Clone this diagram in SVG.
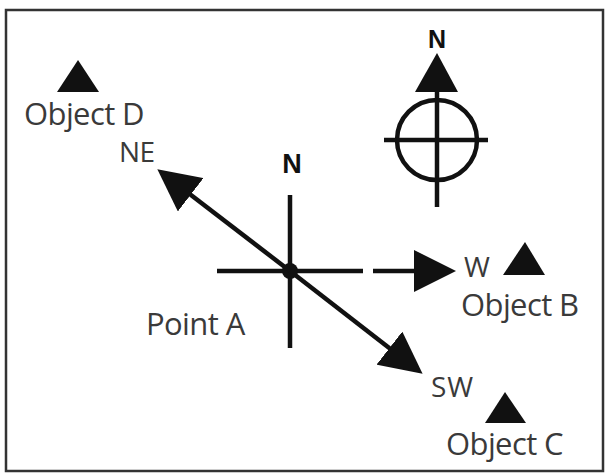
<svg xmlns="http://www.w3.org/2000/svg" width="609" height="476" viewBox="0 0 609 476">
  <style>
    .lbl { font-family: "Open Sans", "Noto Sans", sans-serif; font-size: 31px; fill: #3a3a3a; letter-spacing: -0.6px; }
    .sm { font-size: 28px; }
    .n { font-family: "Liberation Sans", Arial, sans-serif; font-weight: bold; font-size: 27px; fill: #111; text-anchor: middle; }
    .ln { stroke: #111; stroke-width: 4.5; fill: none; }
    .tri { fill: #111; }
  </style>
  <defs>
    <marker id="head" markerUnits="userSpaceOnUse" markerWidth="42" markerHeight="42" refX="20" refY="20" orient="auto-start-reverse" viewBox="0 0 40 40">
      <path d="M0,0 L40,20 L0,40 Z" fill="#111"/>
    </marker>
  </defs>
  <rect x="0" y="0" width="609" height="476" fill="#fff"/>
  <rect x="6" y="10" width="597" height="461" fill="none" stroke="#333" stroke-width="2.5"/>

  <g id="compass">
    <text class="n" x="437" y="48" style="font-size:25px">N</text>
    <polygon class="tri" points="437,53 458,92 415,92"/>
    <circle class="ln" cx="437" cy="140" r="40"/>
    <line class="ln" x1="437" y1="90" x2="437" y2="207"/>
    <line class="ln" x1="384" y1="140" x2="488" y2="140"/>
  </g>

  <g id="object-d">
    <polygon class="tri" points="78,60 99,92 57,92"/>
    <text class="lbl" x="24" y="125">Object D</text>
  </g>

  <g id="object-b">
    <polygon class="tri" points="525,242 545,275 503,275"/>
    <text class="lbl" x="461" y="316">Object B</text>
  </g>

  <g id="object-c">
    <polygon class="tri" points="505,392 526,423 485,423"/>
    <text class="lbl" x="446" y="455">Object C</text>
  </g>

  <g id="point-a">
    <line class="ln" x1="217" y1="271" x2="363" y2="271"/>
    <line class="ln" x1="290" y1="195" x2="290" y2="348"/>
    <circle cx="290" cy="271" r="8" fill="#111"/>
    <text class="n" x="292" y="173">N</text>
    <text class="lbl" x="146" y="335">Point A</text>
  </g>

  <g id="connectors">
    <line class="ln" x1="290" y1="271" x2="174" y2="182" marker-end="url(#head)"/>
    <line class="ln" x1="290" y1="271" x2="406" y2="361" marker-end="url(#head)"/>
    <line class="ln" x1="373" y1="271" x2="435" y2="271" marker-end="url(#head)"/>
  </g>

  <g id="direction-labels">
    <text class="lbl sm" x="119" y="162">NE</text>
    <text class="lbl" x="464" y="277" style="font-size:28px">W</text>
    <text class="lbl sm" x="431" y="397" style="letter-spacing:1px">SW</text>
  </g>
</svg>
